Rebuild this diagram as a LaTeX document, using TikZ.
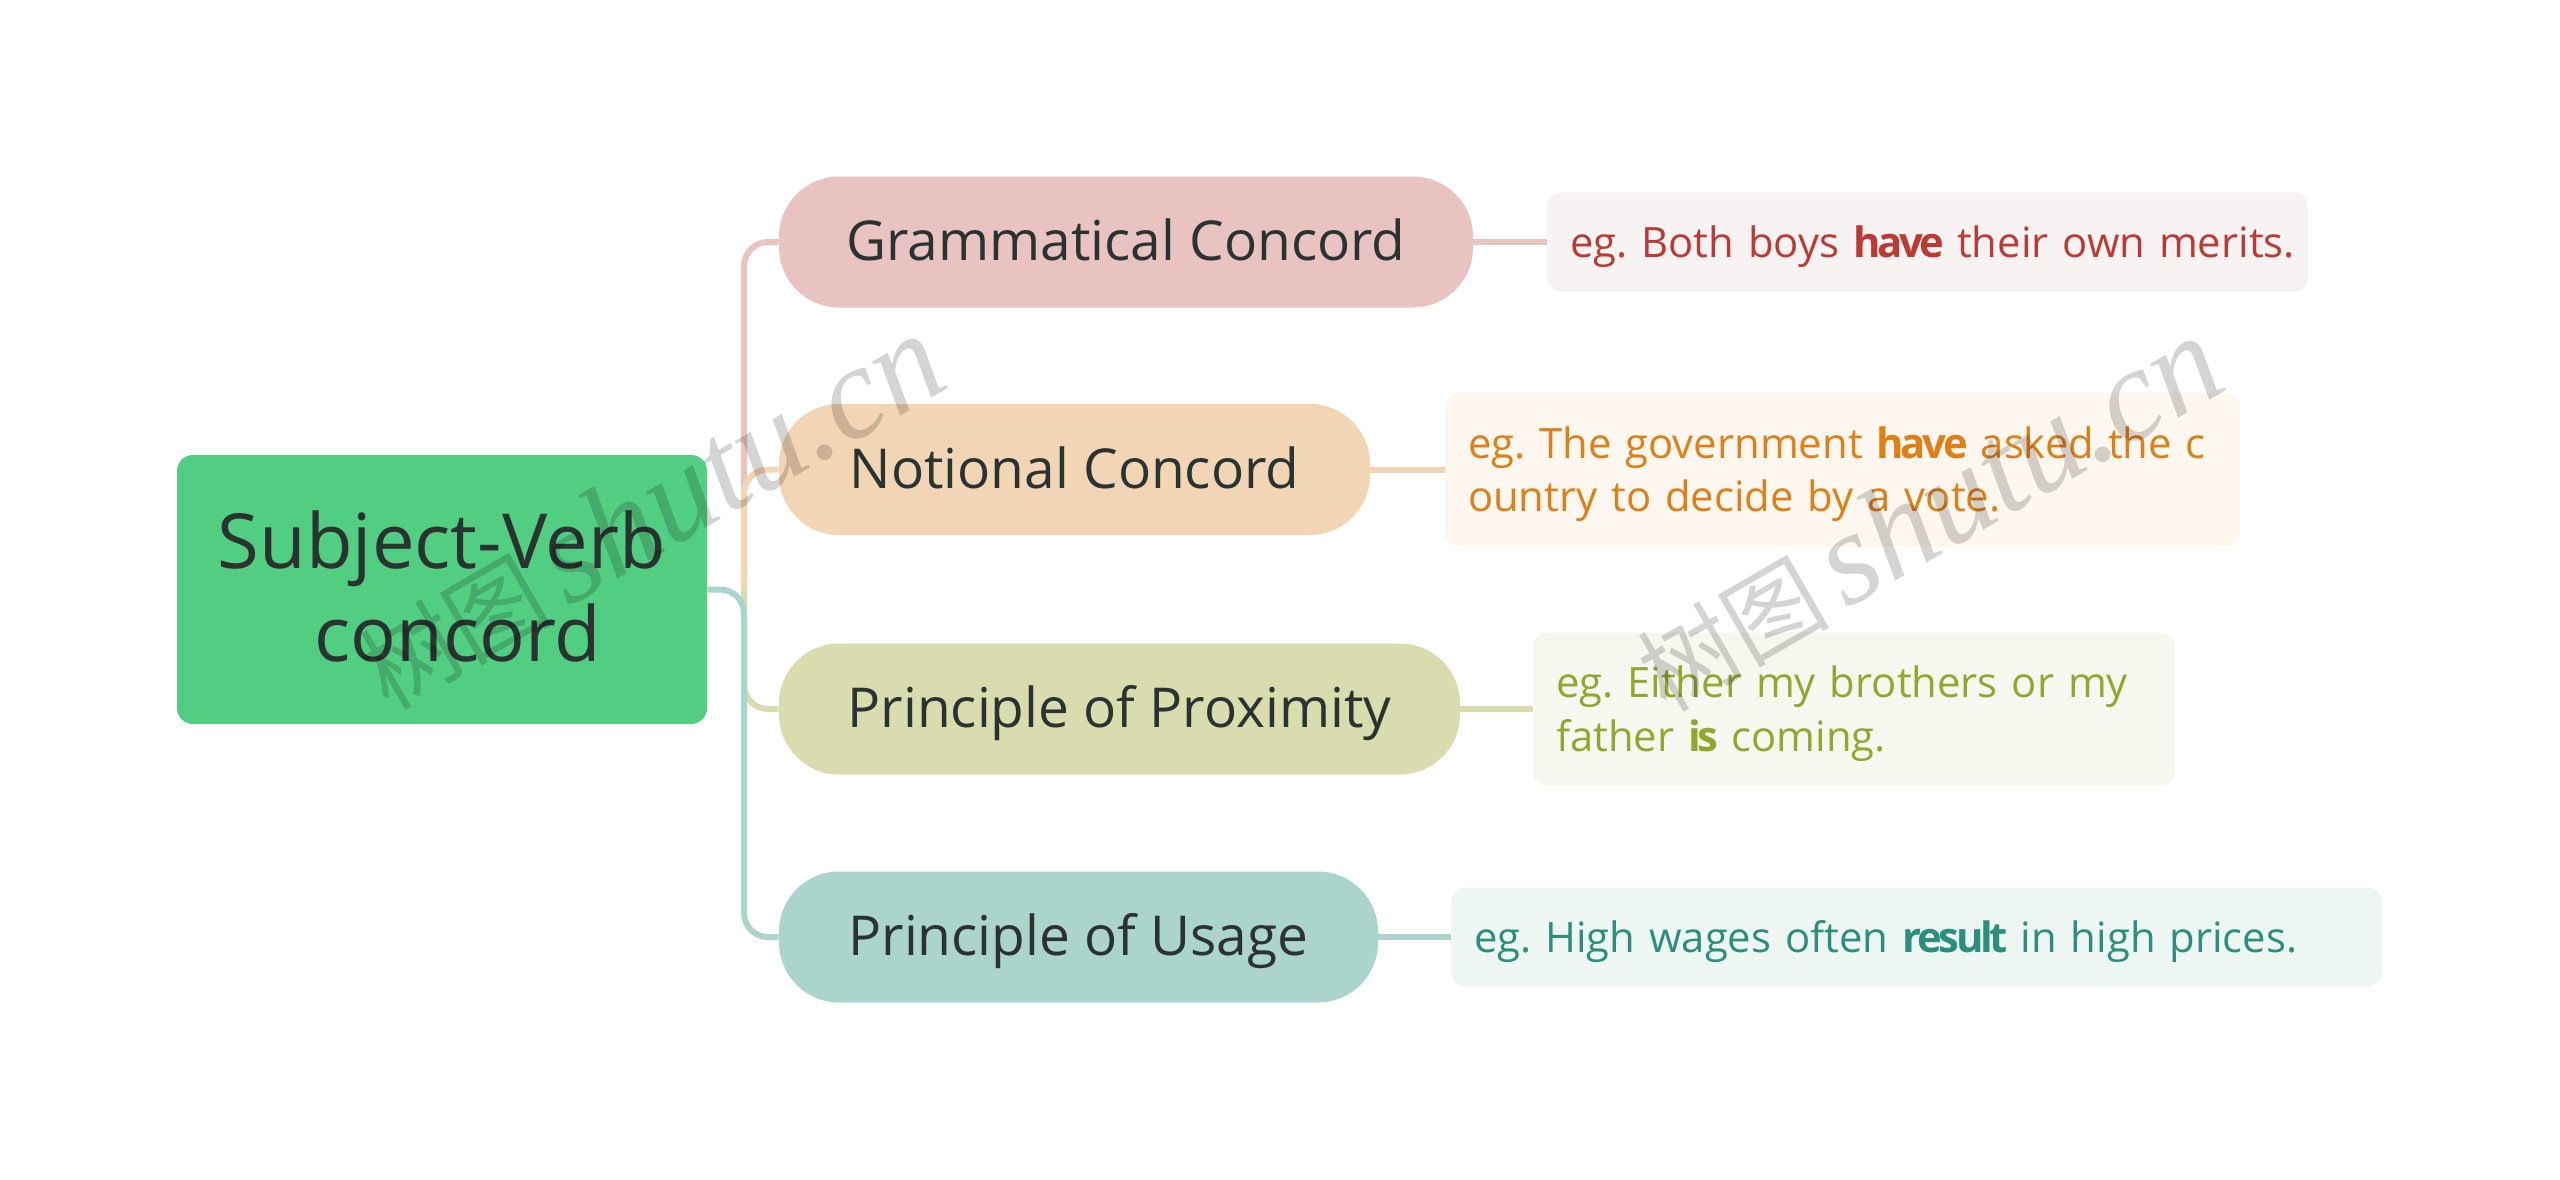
\documentclass[tikz,border=0pt]{standalone}
\usepackage{fontspec}
\setmainfont{Open Sans}
\newfontfamily\cjkwm{Noto Sans CJK SC}
\newfontfamily\wmlatin{Liberation Serif}
\newcommand{\emphword}[1]{{\bfseries\addfontfeatures{LetterSpace=-8}#1}\kern-0.5pt\relax}
\newcommand{\wmtext}{{\fontsize{48}{60}\selectfont\cjkwm 树图}\hspace{8pt}{\fontsize{66}{60}\selectfont\wmlatin\itshape shutu.cn}}
\newcommand{\pillstrut}{\rule[-9.4pt]{0pt}{37.4pt}}
\newcommand{\dtop}{\rule{0pt}{22pt}}
\newcommand{\dbot}{\rule[-6.5pt]{0pt}{6.5pt}}
\definecolor{rootc}{HTML}{52CE83}
\definecolor{pinkc}{HTML}{E8C3C2}
\definecolor{orangec}{HTML}{F2D5B5}
\definecolor{olivec}{HTML}{D9DCAE}
\definecolor{tealc}{HTML}{ABD5CC}
\definecolor{pinkl}{HTML}{F8F3F3}
\definecolor{orangel}{HTML}{FEF7EF}
\definecolor{olivel}{HTML}{F6F8EF}
\definecolor{teall}{HTML}{EEF6F4}
\definecolor{pinkt}{HTML}{BC3A34}
\definecolor{oranget}{HTML}{DF7F17}
\definecolor{olivet}{HTML}{93A72F}
\definecolor{tealt}{HTML}{2B8F7C}
\definecolor{ink}{HTML}{2B3331}
\tikzset{
  x=0.5pt,y=-0.5pt,
  rootbox/.style={fill=rootc,rounded corners=8pt,inner sep=0pt,minimum width=265pt,minimum height=134.5pt,text=ink,align=center,font=\fontsize{38}{46.8}\selectfont},
  pill/.style={rounded corners=30pt,inner sep=0pt,minimum height=65.5pt,text=ink,font=\fontsize{27.5}{30}\selectfont},
  detail/.style={rounded corners=7pt,inner xsep=11.5pt,inner ysep=0pt,align=left,font=\fontsize{20.9}{26.8}\selectfont\frenchspacing},
  link/.style={line width=3pt,line cap=butt},
  trunklink/.style={link,rounded corners=12pt},
  wmark/.style={rotate=30,text=black,opacity=0.17,anchor=center,inner sep=0pt},
}
\begin{document}
\begin{tikzpicture}
\useasboundingbox[fill=white] (0,0) rectangle (2560,1179);
\node[rootbox] (root) at (442,589.5) {Subject-Verb\\\hspace*{16pt}concord\rule[-3.5pt]{0pt}{3.5pt}};
\node[pill,fill=pinkc,minimum width=347pt] (g) at (1126,242) {\pillstrut Grammatical Concord};
\node[pill,fill=orangec,minimum width=295.5pt] (n) at (1074.5,469.5) {\pillstrut Notional Concord};
\node[pill,fill=olivec,minimum width=340.5pt] (p) at (1119.5,709) {\pillstrut Principle of Proximity};
\node[pill,fill=tealc,minimum width=299.5pt] (u) at (1078.5,937) {\pillstrut Principle of Usage};
\coordinate (trunk) at (744,589.5);
\node[detail,fill=pinkl,text=pinkt,minimum width=380.5pt,minimum height=49.5pt,text width=357.5pt] (gd) at (1927.5,242) {\mbox{\dtop\dbot eg. Both boys \emphword{have} their own merits.}};
\node[detail,fill=orangel,text=oranget,minimum width=397.5pt,minimum height=76.5pt,text width=374.5pt] (nd) at (1842.5,469.5) {\dtop eg. The government \emphword{have} asked the c\\\dbot ountry to decide by a vote.};
\node[detail,fill=olivel,text=olivet,minimum width=321pt,minimum height=76.5pt,text width=298pt] (pd) at (1854,709) {\dtop eg. Either my brothers or my\\\dbot father \emphword{is} coming.};
\node[detail,fill=teall,text=tealt,minimum width=465.5pt,minimum height=49.5pt,text width=442.5pt] (ud) at (1916.5,937) {\dtop\dbot eg. High wages often \emphword{result} in high prices.};
\draw[trunklink,pinkc] (trunk) |- (g.west);
\draw[trunklink,orangec] (trunk) |- (n.west);
\draw[trunklink,olivec] (trunk) |- (p.west);
\draw[trunklink,tealc] (root.east) -- (trunk) |- (u.west);
\draw[link,pinkc] (g.east) -- (gd.west);
\draw[link,orangec] (n.east) -- (nd.west);
\draw[link,olivec] (p.east) -- (pd.west);
\draw[link,tealc] (u.east) -- (ud.west);
\node[wmark] (w1) at (650,512) {\wmtext};
\node[wmark] (w2) at (1928,514) {\wmtext};
\end{tikzpicture}
\end{document}
